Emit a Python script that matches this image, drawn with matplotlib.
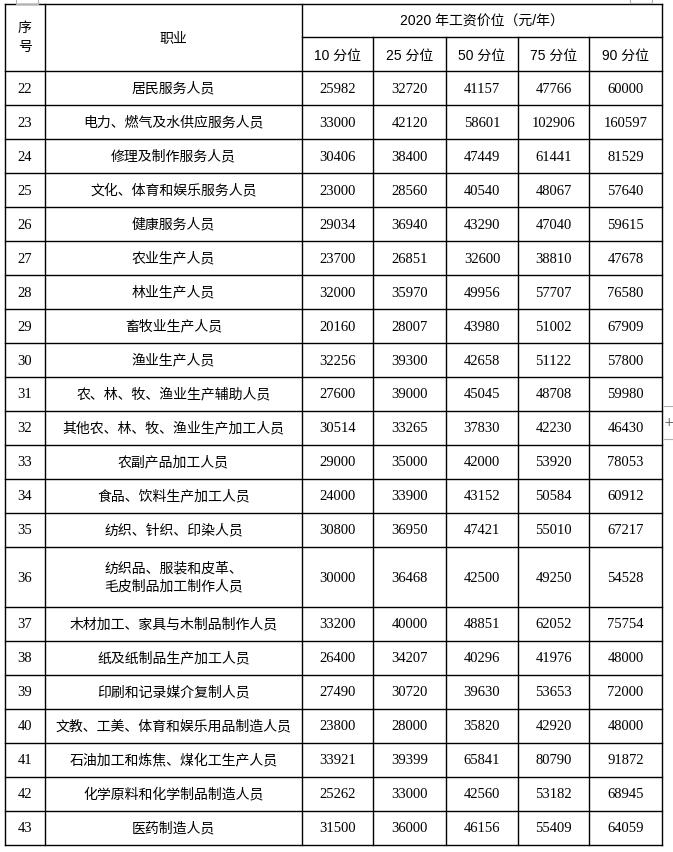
import matplotlib
matplotlib.use("Agg")
import matplotlib.pyplot as plt

# ---- data ----
ids = list(range(22, 44))
occupations = [
    "居民服务人员",
    "电力、燃气及水供应服务人员",
    "修理及制作服务人员",
    "文化、体育和娱乐服务人员",
    "健康服务人员",
    "农业生产人员",
    "林业生产人员",
    "畜牧业生产人员",
    "渔业生产人员",
    "农、林、牧、渔业生产辅助人员",
    "其他农、林、牧、渔业生产加工人员",
    "农副产品加工人员",
    "食品、饮料生产加工人员",
    "纺织、针织、印染人员",
    "纺织品、服装和皮革、\n毛皮制品加工制作人员",
    "木材加工、家具与木制品制作人员",
    "纸及纸制品生产加工人员",
    "印刷和记录媒介复制人员",
    "文教、工美、体育和娱乐用品制造人员",
    "石油加工和炼焦、煤化工生产人员",
    "化学原料和化学制品制造人员",
    "医药制造人员",
]
p10 = [25982, 33000, 30406, 23000, 29034, 23700, 32000, 20160, 32256, 27600, 30514,
       29000, 24000, 30800, 30000, 33200, 26400, 27490, 23800, 33921, 25262, 31500]
p25 = [32720, 42120, 38400, 28560, 36940, 26851, 35970, 28007, 39300, 39000, 33265,
       35000, 33900, 36950, 36468, 40000, 34207, 30720, 28000, 39399, 33000, 36000]
p50 = [41157, 58601, 47449, 40540, 43290, 32600, 49956, 43980, 42658, 45045, 37830,
       42000, 43152, 47421, 42500, 48851, 40296, 39630, 35820, 65841, 42560, 46156]
p75 = [47766, 102906, 61441, 48067, 47040, 38810, 57707, 51002, 51122, 48708, 42230,
       53920, 50584, 55010, 49250, 62052, 41976, 53653, 42920, 80790, 53182, 55409]
p90 = [60000, 160597, 81529, 57640, 59615, 47678, 76580, 67909, 57800, 59980, 46430,
       78053, 60912, 67217, 54528, 75754, 48000, 72000, 48000, 91872, 68945, 64059]
header_main = "2020 年工资价位（元/年）"
header_cols = ["10 分位", "25 分位", "50 分位", "75 分位", "90 分位"]
header_id = "序\n号"
header_occ = "职业"

# ---- layout ----
W, H = 673, 853
fig = plt.figure(figsize=(W / 100, H / 100), dpi=100)
ax = fig.add_axes([0, 0, 1, 1])
ax.set_xlim(0, W)
ax.set_ylim(H, 0)
ax.axis("off")

xs = [5, 45, 302, 373, 446, 518, 589, 662]
y_top, y_mid, y_head = 5, 38, 72
row_h = 34
heights = [60 if "\n" in o else row_h for o in occupations]
ys = [y_head]
for h in heights:
    ys.append(ys[-1] + h)

lw = 1.0
col = "black"
cjk = ["Noto Sans CJK SC", "DejaVu Sans"]
num_font = ["Liberation Serif", "Noto Sans CJK SC"]
hdr_font = ["Liberation Sans", "Noto Sans CJK SC"]
fs = 10

# horizontal lines
ax.plot([xs[0], xs[-1]], [y_top, y_top], color=col, lw=lw)
ax.plot([xs[2], xs[-1]], [y_mid, y_mid], color=col, lw=lw)
for y in ys:
    ax.plot([xs[0], xs[-1]], [y, y], color=col, lw=lw)
# vertical lines
for i, x in enumerate(xs):
    if 3 <= i <= 6:
        ax.plot([x, x], [y_mid, ys[-1]], color=col, lw=lw)
    else:
        ax.plot([x, x], [y_top, ys[-1]], color=col, lw=lw)

# header text
ax.text((xs[0] + xs[1]) / 2, (y_top + y_head) / 2 - 1, header_id, ha="center", va="center",
        fontsize=fs, family=cjk, linespacing=1.5)
ax.text((xs[1] + xs[2]) / 2, (y_top + y_head) / 2, header_occ, ha="center", va="center",
        fontsize=fs, family=cjk)
ax.text((xs[2] + xs[-1]) / 2, (y_top + y_mid) / 2 + 0, header_main, ha="center", va="center",
        fontsize=fs, family=hdr_font)
for j, hc in enumerate(header_cols):
    ax.text((xs[2 + j] + xs[3 + j]) / 2, (y_mid + y_head) / 2 + 1, hc, ha="center", va="center",
            fontsize=fs, family=hdr_font)

# body
for r in range(len(ids)):
    yc = (ys[r] + ys[r + 1]) / 2
    ax.text((xs[0] + xs[1]) / 2, yc, str(ids[r]), ha="center", va="center",
            fontsize=fs + 0.5, family=num_font)
    ax.text((xs[1] + xs[2]) / 2, yc - 0.5, occupations[r], ha="center", va="center",
            fontsize=fs, family=cjk, linespacing=1.35)
    for j, series in enumerate([p10, p25, p50, p75, p90]):
        ax.text((xs[2 + j] + xs[3 + j]) / 2, yc, str(series[r]), ha="center", va="center",
                fontsize=fs + 0.5, family=num_font)

# faint editor artefacts
gray = "#b0b0b0"
ax.plot([16, 16, 38], [0, 5, 5], color=gray, lw=0.8)
ax.plot([38, 38], [0, 5], color=gray, lw=0.8)
ax.plot([630, 630, 652], [0, 4, 4], color=gray, lw=0.8)
ax.plot([652, 652], [0, 4], color=gray, lw=0.8)
ax.plot([664, 673], [407, 407], color=gray, lw=0.8)
ax.plot([664, 673], [440, 440], color=gray, lw=0.8)
ax.text(669, 423, "+", ha="center", va="center", fontsize=9, color="#666666")

fig.savefig("out.png", dpi=100, facecolor="white")
